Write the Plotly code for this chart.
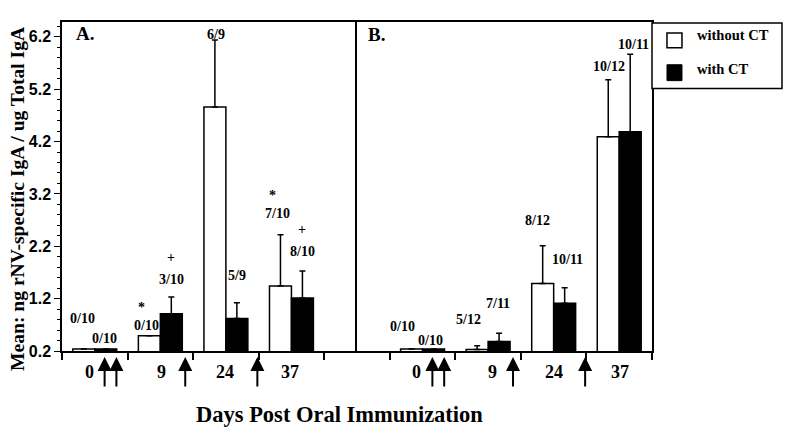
import plotly.graph_objects as go

# days post oral immunization (categories)
days = ["0", "9", "24", "37"]

# A. mean rNV-specific IgA (ng / ug total IgA) and upper error
a_without = [0.24, 0.49, 4.86, 1.44]
a_without_err = [0, 0, 1.28, 0.98]
a_with = [0.24, 0.91, 0.82, 1.21]
a_with_err = [0, 0.32, 0.30, 0.52]

# B.
b_without = [0.24, 0.23, 1.49, 4.29]
b_without_err = [0, 0.07, 0.72, 1.09]
b_with = [0.24, 0.38, 1.11, 4.39]
b_with_err = [0, 0.16, 0.30, 1.48]

# responders / group size
a_without_lbl = ["0/10", "0/10", "6/9", "7/10"]
a_with_lbl = ["0/10", "3/10", "5/9", "8/10"]
b_without_lbl = ["0/10", "5/12", "8/12", "10/12"]
b_with_lbl = ["0/10", "7/11", "10/11", "10/11"]
a_without_sig = ["", "*", "", "*"]
a_with_sig = ["", "+", "", "+"]

# oral doses (arrows), in category units
dose_pos = [0.15, 0.33, 1.38, 2.48]

SERIF = "Liberation Serif, Times New Roman, serif"
SANS = "Liberation Sans, Arial, sans-serif"
BAR_HALF = 0.1675  # half bar width in category units (bargap 0.33)

fig = go.Figure()


def add_bars(vals, errs, color, xa, ya):
    fig.add_trace(go.Bar(
        x=days, y=vals, xaxis=xa, yaxis=ya,
        marker=dict(color=color, line=dict(color="black", width=1.5)),
        error_y=dict(type="data", array=errs, arrayminus=[0] * len(errs),
                     symmetric=False, color="black", thickness=1.5, width=3),
        showlegend=False))


add_bars(a_without, a_without_err, "white", "x", "y")
add_bars(a_with, a_with_err, "black", "x", "y")
add_bars(b_without, b_without_err, "white", "x2", "y2")
add_bars(b_with, b_with_err, "black", "x2", "y2")

ann = []
lblfont = dict(family=SERIF, size=14, color="black", weight="bold")

# label offsets above error-bar tops (px): (dx, dy)
shifts = {
    "aw": [(-1, 30), (-3, 10), (1, 6), (-3, 21)],
    "ac": [(-1, 10), (0, 18), (0, 27), (0, 19)],
    "bw": [(-9, 22), (-9, 26), (-5, 25), (1, 13)],
    "bc": [(-3, 8), (-1, 30), (3, 28), (3, 10)],
}


def add_labels(vals, errs, lbls, side, key, xa, ya, sig=None):
    for i, (v, e, t) in enumerate(zip(vals, errs, lbls)):
        dx, dy = shifts[key][i]
        x = i + side * BAR_HALF
        ann.append(dict(x=x, y=v + e, xref=xa, yref=ya, text=t, showarrow=False,
                        xshift=dx, yshift=dy, yanchor="middle", font=lblfont))
        if sig and sig[i]:
            extra = 18 if sig[i] == "*" else 22
            sx = dx - 5 if sig[i] == "*" else dx
            ann.append(dict(x=x, y=v + e, xref=xa, yref=ya, text=sig[i], showarrow=False,
                            xshift=sx, yshift=dy + extra, yanchor="middle", font=lblfont))


add_labels(a_without, a_without_err, a_without_lbl, -1, "aw", "x", "y", a_without_sig)
add_labels(a_with, a_with_err, a_with_lbl, 1, "ac", "x", "y", a_with_sig)
add_labels(b_without, b_without_err, b_without_lbl, -1, "bw", "x2", "y2")
add_labels(b_with, b_with_err, b_with_lbl, 1, "bc", "x2", "y2")

# day labels under the axis (nudged clear of the arrows)
day_shift = {"x": [-5, 1, -1, -1], "x2": [-6, 4, 0, 1]}
for xa in ["x", "x2"]:
    for i, d in enumerate(days):
        ann.append(dict(x=i, y=-0.0625, xref=xa, yref="paper", text=d, showarrow=False,
                        xshift=day_shift[xa][i], yanchor="middle",
                        font=dict(family=SERIF, size=18, color="black", weight="bold")))

# dose arrows under the axis
for xa in ["x", "x2"]:
    for p in dose_pos:
        ann.append(dict(x=p, y=-0.018, xref=xa, yref="paper", text="", showarrow=True,
                        ax=0, ay=31, arrowhead=2, arrowsize=1.4, arrowwidth=2,
                        arrowcolor="black"))

# panel letters
ann.append(dict(x=0.02, y=0.964, xref="paper", yref="paper", text="A.", showarrow=False,
                xanchor="left", yanchor="middle",
                font=dict(family=SERIF, size=19, color="black", weight="bold")))
ann.append(dict(x=0.516, y=0.961, xref="paper", yref="paper", text="B.", showarrow=False,
                xanchor="left", yanchor="middle",
                font=dict(family=SERIF, size=19, color="black", weight="bold")))

# axis titles
ann.append(dict(x=0.471, y=-0.193, xref="paper", yref="paper",
                text="Days Post Oral Immunization", showarrow=False,
                xanchor="center", yanchor="middle",
                font=dict(family=SERIF, size=22.5, color="black", weight="bold")))
ann.append(dict(x=-0.0763, y=0.462, xref="paper", yref="paper",
                text="Mean: ng rNV-specific IgA / ug Total IgA", showarrow=False,
                textangle=-90, xanchor="center", yanchor="middle",
                font=dict(family=SERIF, size=19.6, color="black", weight="bold")))

# legend (box drawn by hand)
legfont = dict(family=SERIF, size=14.5, color="black", weight="bold")
ann.append(dict(x=1.0729, y=0.9607, xref="paper", yref="paper", text="without CT",
                showarrow=False, xanchor="left", yanchor="middle", font=legfont))
ann.append(dict(x=1.0729, y=0.858, xref="paper", yref="paper", text="with CT",
                showarrow=False, xanchor="left", yanchor="middle", font=legfont))

shapes = [
    dict(type="rect", xref="paper", yref="paper", x0=1.0, x1=1.2203, y0=0.7976, y1=0.997,
         line=dict(color="black", width=1.5), fillcolor="white"),
    dict(type="rect", xref="paper", yref="paper", x0=1.0254, x1=1.0508, y0=0.9215, y1=0.9668,
         line=dict(color="black", width=1.5), fillcolor="white"),
    dict(type="rect", xref="paper", yref="paper", x0=1.0254, x1=1.0508, y0=0.8218, y1=0.8701,
         line=dict(color="black", width=1), fillcolor="black"),
]

xcommon = dict(type="category", categoryorder="array", categoryarray=days,
               tickson="boundaries", ticks="outside", ticklen=7, tickwidth=1.5,
               tickcolor="black", showline=True, linecolor="black", linewidth=1.5,
               mirror=True, showgrid=False, zeroline=False, showticklabels=False)

# page body has an 8px margin, so the figure is 8px smaller each way
fig.update_layout(
    width=792, height=427,
    margin=dict(l=54, r=148, t=12, b=84),
    paper_bgcolor="white", plot_bgcolor="white",
    barmode="group", bargap=0.33, bargroupgap=0,
    showlegend=False,
    xaxis=dict(domain=[0, 0.5], range=[-0.5, 4.0], anchor="y", **xcommon),
    xaxis2=dict(domain=[0.5, 1], range=[-1.0, 3.5], anchor="y2", **xcommon),
    yaxis=dict(range=[0.2, 6.484], tick0=0.2, dtick=1, tickformat=".1f",
               ticks="outside", ticklen=6, tickwidth=1, tickcolor="black",
               minor=dict(tick0=0.2, dtick=0.2, ticks="outside", ticklen=3,
                          tickcolor="black", tickwidth=1),
               showline=True, linecolor="black", linewidth=1.5, mirror=False,
               showgrid=False, zeroline=False, anchor="x",
               tickfont=dict(family=SANS, size=16, color="black", weight="bold")),
    yaxis2=dict(matches="y", anchor="x2", showticklabels=False, ticks="",
                showline=True, linecolor="black", linewidth=1.5, mirror=True,
                showgrid=False, zeroline=False),
    annotations=ann,
    shapes=shapes,
)

fig.write_html("out.html")
